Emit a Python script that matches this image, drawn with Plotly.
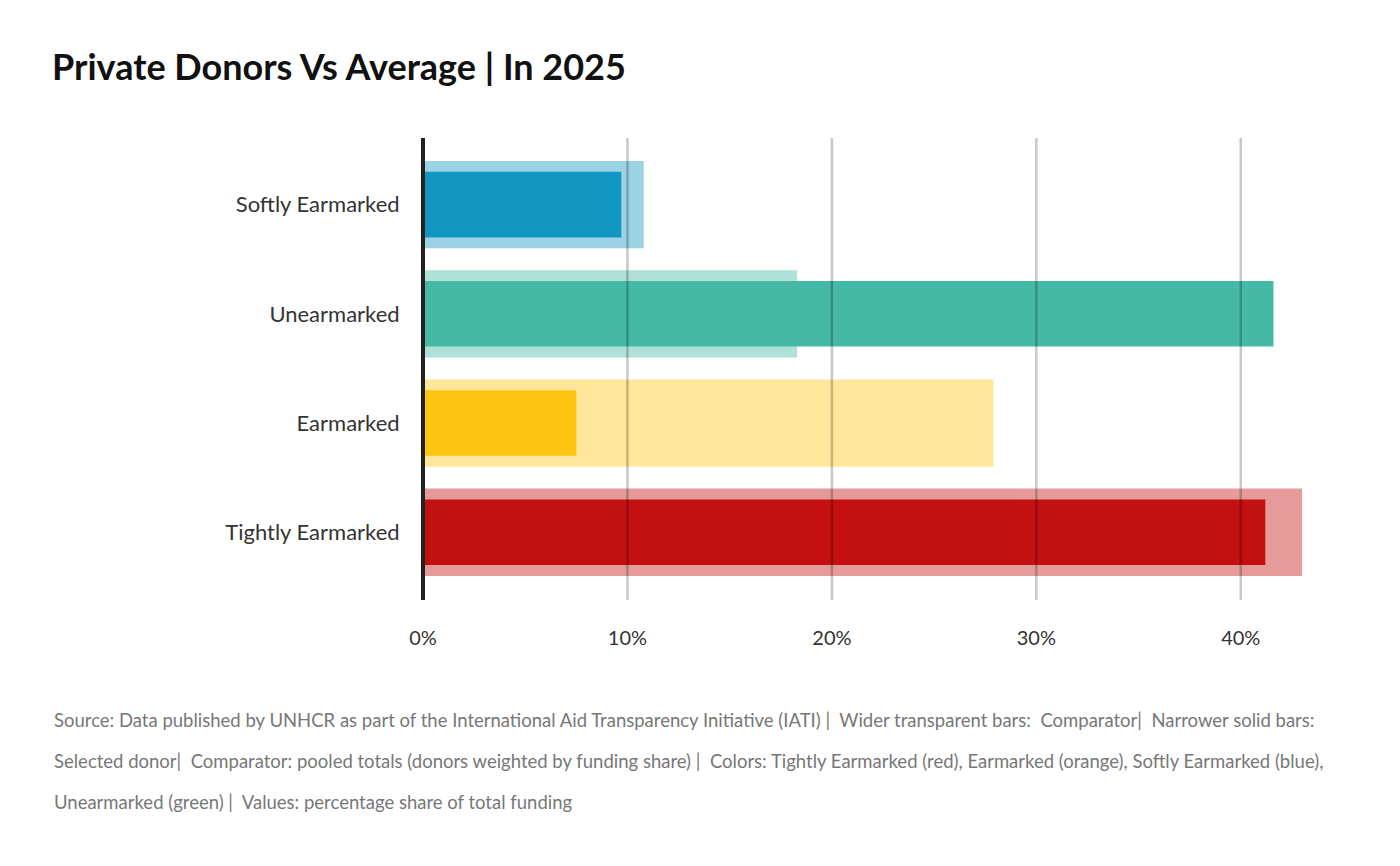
import plotly.graph_objects as go

categories = ["Tightly Earmarked", "Earmarked", "Unearmarked", "Softly Earmarked"]
comparator_pct = [43.0, 27.9, 18.3, 10.8]
donor_pct = [41.2, 7.5, 41.6, 9.7]
colors = ["#c31010", "#fec412", "#45b8a6", "#1096c0"]
tick_vals = [0, 10, 20, 30, 40]
tick_text = ["0%", "10%", "20%", "30%", "40%"]

title_text = "Private Donors Vs Average | In 2025"
footer_lines = [
    "Source: Data published by UNHCR as part of the International Aid Transparency Initiative (IATI) |  Wider transparent bars:  Comparator|  Narrower solid bars:",
    "Selected donor|  Comparator: pooled totals (donors weighted by funding share) |  Colors: Tightly Earmarked (red), Earmarked (orange), Softly Earmarked (blue),",
    "Unearmarked (green) |  Values: percentage share of total funding",
]

FONT = "Lato, 'Noto Sans', sans-serif"

W, H = 1400, 866
OFF = 8  # page body margin offset
ML, MR, MT, MB = 423 - OFF, 65, 138 - OFF, 866 - (600 - OFF)
PW, PH = W - ML - MR, H - MT - MB

fig = go.Figure()
fig.add_trace(go.Bar(
    y=categories, x=comparator_pct, orientation="h",
    marker=dict(color=colors, line=dict(width=0)), opacity=0.42,
    width=0.8, name="Comparator", hoverinfo="x+y",
))
fig.add_trace(go.Bar(
    y=categories, x=donor_pct, orientation="h",
    marker=dict(color=colors, line=dict(width=0)), opacity=1.0,
    width=0.6, name="Selected donor", hoverinfo="x+y",
))

# gridlines drawn above bars
for v in tick_vals[1:]:
    fig.add_shape(type="line", xref="x", yref="paper", x0=v, x1=v, y0=0, y1=1,
                  line=dict(color="rgba(0,0,0,0.22)", width=2.5), layer="above")
# zero line (paper ref so it is not clipped at the plot edge)
fig.add_shape(type="line", xref="paper", yref="paper", x0=0, x1=0, y0=0, y1=1,
              line=dict(color="#222222", width=4), layer="above")

fig.update_layout(
    width=W, height=H,
    barmode="overlay",
    showlegend=False,
    plot_bgcolor="white", paper_bgcolor="white",
    font=dict(family=FONT, color="#333333"),
    margin=dict(l=ML, r=MR, t=MT, b=MB),
    title=dict(text="<b>" + title_text + "</b>", x=(52 - OFF) / W, xanchor="left",
               y=1 - (67 - OFF) / H, yanchor="middle",
               font=dict(family=FONT, size=36, color="#111111")),
    xaxis=dict(range=[0, 45], tickvals=tick_vals, ticktext=tick_text,
               showgrid=False, zeroline=False, showline=False,
               ticks="outside", ticklen=20, tickcolor="rgba(0,0,0,0)",
               tickfont=dict(size=20, color="#333333")),
    yaxis=dict(categoryorder="array", categoryarray=categories,
               range=[-0.62, 3.61], showgrid=False, zeroline=False, showline=False,
               ticks="outside", ticklen=18, tickcolor="rgba(0,0,0,0)",
               tickfont=dict(size=22, color="#333333")),
)

for i, line in enumerate(footer_lines):
    ypx = 720 + 41 * i - OFF
    fig.add_annotation(text=line, xref="paper", yref="paper",
                       x=-(ML - (52 - OFF)) / PW, xanchor="left",
                       y=(H - MB - ypx) / PH, yanchor="middle",
                       showarrow=False, align="left",
                       font=dict(family=FONT, size=18.5, color="#777777"))

fig.write_html("out.html")
